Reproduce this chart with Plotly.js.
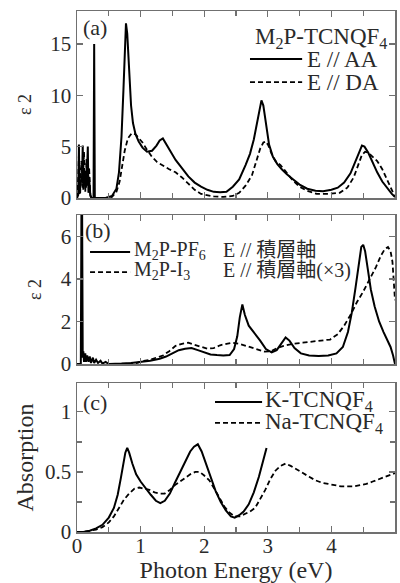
<!DOCTYPE html>
<html>
<head>
<meta charset="utf-8">
<script src="https://cdn.plot.ly/plotly-3.0.1.min.js"></script>
<style>
  html, body { margin: 0; padding: 0; background: #fff; }
  #chart { width: 400px; height: 583px; }
</style>
</head>
<body>
<div id="chart"></div>
<script>
// ---------- Panel (a): M2P-TCNQF4, epsilon_2 ----------
const aaEnergy = [0.00,0.02,0.03,0.04,0.06,0.08,0.09,0.10,0.12,0.14,0.16,0.17,0.18,0.19,0.21,0.23,0.26,0.27,0.28,0.30,
  0.45,0.55,0.62,0.66,0.70,0.73,0.75,0.77,0.79,0.82,0.85,0.88,0.92,0.97,1.03,1.10,1.18,1.25,1.30,1.35,1.40,1.47,1.55,1.65,1.75,1.85,1.95,2.05,2.15,2.25,2.35,2.45,2.55,2.65,2.72,2.78,2.83,2.87,2.90,2.93,2.97,3.02,3.08,3.15,3.22,3.30,3.40,3.50,3.62,3.75,3.87,4.00,4.10,4.20,4.30,4.38,4.44,4.48,4.52,4.58,4.65,4.72,4.80,4.88,4.95,5.00];
const aaEps2 = [0.0,0.3,5.2,0.4,1.5,2.0,5.1,0.8,2.5,1.0,3.0,5.0,0.5,2.0,0.2,0.0,0.0,15.0,0.0,0.0,
  0.0,0.2,0.9,2.5,6.0,10.5,14.5,17.0,16.0,12.5,9.0,7.3,6.2,5.5,4.9,4.5,4.6,5.1,5.6,5.8,5.3,4.5,3.7,2.9,2.1,1.5,1.1,0.8,0.6,0.55,0.6,1.1,1.8,3.2,4.3,5.7,7.3,8.8,9.5,9.0,7.2,5.2,4.0,3.3,2.8,2.3,1.8,1.3,0.9,0.7,0.65,0.8,1.0,1.5,2.4,3.5,4.5,5.1,5.0,4.4,3.4,2.5,1.6,0.9,0.4,0.1];

const daEnergy = [0.00,0.02,0.03,0.05,0.07,0.09,0.11,0.13,0.15,0.17,0.19,0.21,0.23,
  0.45,0.55,0.62,0.67,0.71,0.75,0.80,0.86,0.92,0.98,1.03,1.10,1.18,1.26,1.34,1.45,1.55,1.65,1.75,1.85,1.95,2.05,2.15,2.30,2.45,2.55,2.65,2.75,2.82,2.88,2.93,2.97,3.01,3.06,3.12,3.20,3.28,3.38,3.50,3.62,3.77,3.95,4.13,4.25,4.35,4.42,4.48,4.53,4.58,4.65,4.72,4.80,4.87,4.94,5.00];
const daEps2 = [0.0,2.0,4.2,0.5,3.6,1.0,4.5,0.6,3.8,1.2,3.0,0.3,0.0,
  0.0,0.1,0.6,1.6,3.0,4.6,5.8,6.3,6.2,5.8,5.4,4.7,4.0,3.5,3.2,2.8,2.5,2.0,1.4,0.8,0.4,0.25,0.15,0.1,0.2,0.5,1.2,2.2,3.6,4.8,5.4,5.5,5.1,4.3,3.6,3.2,2.6,1.8,1.1,0.7,0.4,0.4,0.5,1.0,2.0,3.3,4.2,4.5,4.4,4.0,3.6,2.8,1.8,0.8,0.1];

// ---------- Panel (b): M2P-PF6 and M2P-I3 (x3), epsilon_2 along stacking axis ----------
const pf6Energy = [0.00,0.06,0.07,0.08,0.09,0.10,0.11,0.13,0.14,0.16,0.18,0.20,0.22,0.25,0.27,0.30,0.33,0.37,0.40,0.45,0.50,
  0.55,0.70,0.85,1.00,1.15,1.30,1.40,1.50,1.60,1.70,1.80,1.90,2.00,2.10,2.20,2.30,2.40,2.47,2.52,2.56,2.60,2.64,2.70,2.78,2.88,2.97,3.06,3.14,3.22,3.28,3.34,3.42,3.52,3.65,3.80,3.95,4.08,4.18,4.26,4.32,4.38,4.43,4.47,4.50,4.53,4.57,4.62,4.68,4.75,4.82,4.88,4.93,4.97,5.00];
const pf6Eps2 = [0.0,0.0,7.5,7.5,0.3,0.6,0.1,0.5,0.1,0.4,0.1,0.35,0.05,0.3,0.05,0.2,0.05,0.15,0.02,0.1,0.0,
  0.0,0.02,0.05,0.1,0.15,0.25,0.35,0.5,0.65,0.72,0.75,0.65,0.55,0.45,0.42,0.4,0.42,0.7,1.3,2.2,2.8,2.3,1.8,1.5,1.1,0.7,0.55,0.65,1.0,1.25,1.1,0.75,0.5,0.4,0.37,0.4,0.5,0.8,1.5,2.4,3.6,4.8,5.5,5.6,5.3,4.5,3.5,2.7,2.0,1.5,1.1,0.8,0.4,0.0];

const i3Energy = [0.80,0.95,1.05,1.15,1.25,1.35,1.45,1.55,1.65,1.75,1.85,1.95,2.05,2.15,2.25,2.35,2.45,2.55,2.65,2.75,2.85,2.95,3.05,3.15,3.25,3.40,3.55,3.70,3.85,3.98,4.10,4.20,4.30,4.40,4.50,4.60,4.70,4.78,4.84,4.89,4.93,4.96,4.98,5.00];
const i3Eps2 = [0.0,0.05,0.15,0.2,0.3,0.4,0.6,0.85,0.95,1.0,0.9,0.8,0.72,0.75,0.88,0.95,1.0,0.95,0.85,0.78,0.68,0.58,0.6,0.75,0.85,0.95,1.0,1.05,1.08,1.15,1.4,1.8,2.3,2.9,3.4,3.95,4.55,5.1,5.4,5.5,5.3,4.8,4.0,3.0];

// ---------- Panel (c): absorption of K-TCNQF4 and Na-TCNQF4 ----------
const kEnergy = [0.00,0.10,0.20,0.30,0.40,0.50,0.58,0.64,0.69,0.73,0.76,0.79,0.82,0.87,0.93,1.00,1.08,1.16,1.24,1.31,1.38,1.46,1.54,1.62,1.70,1.78,1.84,1.90,1.96,2.03,2.10,2.18,2.26,2.34,2.42,2.48,2.55,2.62,2.70,2.78,2.86,2.93,2.98];
const kAbs = [0.0,0.0,0.01,0.03,0.06,0.12,0.2,0.31,0.45,0.58,0.66,0.70,0.66,0.57,0.48,0.42,0.36,0.31,0.26,0.24,0.26,0.32,0.41,0.50,0.59,0.67,0.71,0.73,0.67,0.56,0.45,0.34,0.25,0.18,0.13,0.12,0.14,0.17,0.23,0.33,0.46,0.60,0.70];

const naEnergy = [0.00,0.10,0.20,0.30,0.40,0.50,0.58,0.66,0.74,0.82,0.90,0.98,1.06,1.14,1.22,1.30,1.38,1.46,1.54,1.62,1.70,1.78,1.86,1.93,2.00,2.08,2.16,2.24,2.32,2.40,2.48,2.56,2.64,2.72,2.80,2.88,2.96,3.04,3.12,3.20,3.28,3.36,3.45,3.55,3.65,3.75,3.85,3.95,4.05,4.15,4.25,4.35,4.45,4.55,4.65,4.75,4.85,5.00];
const naAbs = [0.0,0.0,0.01,0.02,0.04,0.08,0.13,0.2,0.27,0.32,0.36,0.37,0.36,0.35,0.33,0.32,0.32,0.35,0.39,0.42,0.45,0.48,0.50,0.50,0.47,0.43,0.36,0.28,0.21,0.16,0.13,0.13,0.15,0.17,0.2,0.27,0.35,0.44,0.51,0.55,0.57,0.55,0.52,0.49,0.46,0.43,0.41,0.40,0.39,0.38,0.38,0.38,0.39,0.40,0.42,0.44,0.46,0.49];

// ---------- Tick labels ----------
const xTickVals = [0,1,2,3,4,5];
const xTickText = ['0','1','2','3','4','5'];
const aTickVals = [0,5,10,15];
const bTickVals = [0,2,4,6];
const cTickVals = [0,0.5,1];
const cTickText = ['0','0.5','1'];

// ---------- Styling ----------
const SERIF = 'Liberation Serif, Times New Roman, Noto Sans CJK JP, serif';
const TXT = '#2a2a2a';
const FRAME = '#707070';

function solidTrace(x, y, xa, ya) {
  return {x: x, y: y, xaxis: xa, yaxis: ya, type: 'scatter', mode: 'lines',
    line: {color: '#000', width: 2}, showlegend: false, hoverinfo: 'skip'};
}
function dashTrace(x, y, xa, ya) {
  return {x: x, y: y, xaxis: xa, yaxis: ya, type: 'scatter', mode: 'lines',
    line: {color: '#000', width: 1.8, dash: '5px,3px'}, showlegend: false, hoverinfo: 'skip'};
}

const data = [
  solidTrace(aaEnergy, aaEps2, 'x3', 'y3'),
  dashTrace(daEnergy, daEps2, 'x3', 'y3'),
  solidTrace(pf6Energy, pf6Eps2, 'x2', 'y2'),
  dashTrace(i3Energy, i3Eps2, 'x2', 'y2'),
  solidTrace(kEnergy, kAbs, 'x', 'y'),
  dashTrace(naEnergy, naAbs, 'x', 'y')
];

function xAxis(anchor, showLabels) {
  return {
    anchor: anchor, domain: [0, 1], range: [0, 5],
    showline: true, mirror: 'allticks', linecolor: FRAME, linewidth: 1.5,
    ticks: 'inside', ticklen: 6, tickwidth: 1.3, tickcolor: FRAME,
    tickvals: xTickVals, ticktext: xTickText, showticklabels: showLabels,
    minor: {ticks: 'inside', ticklen: 5, tickwidth: 1.3, tickcolor: FRAME, dtick: 0.5, tick0: 0, showgrid: false},
    showgrid: false, zeroline: false, fixedrange: true,
    tickfont: {family: SERIF, size: 21, color: TXT}
  };
}
function yAxis(anchor, domain, range, tickvals, ticktext, minorDtick, title, titleSize, standoff) {
  const ax = {
    anchor: anchor, domain: domain, range: range,
    showline: true, mirror: 'allticks', linecolor: FRAME, linewidth: 1.5,
    ticks: 'inside', ticklen: 6, tickwidth: 1.3, tickcolor: FRAME,
    tickvals: tickvals, showgrid: false, zeroline: false, fixedrange: true,
    tickfont: {family: SERIF, size: 21, color: TXT},
    title: {text: title, font: {family: SERIF, size: titleSize, color: TXT}, standoff: standoff}
  };
  if (ticktext) ax.ticktext = ticktext;
  if (minorDtick) ax.minor = {ticks: 'inside', ticklen: 5, tickwidth: 1.3, tickcolor: FRAME, dtick: minorDtick, tick0: 0, showgrid: false};
  return ax;
}

// Plot area geometry (pixels): x 77..395; (a) y 11..198, (b) 215..364, (c) 383..532
const H = 521;
const domC = [0, 149 / H];
const domB = [(532 - 364) / H, (532 - 215) / H];
const domA = [(532 - 198) / H, 1];

// Legend keys & labels (positions in axis-domain fractions)
function keyLine(xr, yr, x0, x1, y, dashed) {
  return {type: 'line', xref: xr, yref: yr, x0: x0, x1: x1, y0: y, y1: y,
    line: {color: '#000', width: dashed ? 1.8 : 2, dash: dashed ? '5px,3px' : 'solid'}};
}
function label(xr, yr, x, y, text, size, anchor) {
  return {xref: xr, yref: yr, x: x, y: y, text: text, showarrow: false,
    xanchor: anchor || 'left', yanchor: 'middle',
    font: {family: SERIF, size: size, color: TXT}};
}

const shapes = [
  keyLine('x3 domain', 'y3 domain', 0.544, 0.708, 0.743, false),
  keyLine('x3 domain', 'y3 domain', 0.544, 0.708, 0.620, true),
  keyLine('x2 domain', 'y2 domain', 0.041, 0.167, 0.752, false),
  keyLine('x2 domain', 'y2 domain', 0.041, 0.167, 0.617, true),
  keyLine('x domain', 'y domain', 0.434, 0.582, 0.872, false),
  keyLine('x domain', 'y domain', 0.434, 0.582, 0.732, true)
];

const annotations = [
  label('x3 domain', 'y3 domain', 0.014, 0.912, '(a)', 22),
  label('x3 domain', 'y3 domain', 0.982, 0.858, 'M<sub>2</sub>P-TCNQF<sub>4</sub>', 23, 'right'),
  label('x3 domain', 'y3 domain', 0.716, 0.740, 'E // AA', 23),
  label('x3 domain', 'y3 domain', 0.716, 0.618, 'E // DA', 23),
  label('x2 domain', 'y2 domain', 0.020, 0.893, '(b)', 22),
  label('x2 domain', 'y2 domain', 0.172, 0.765, 'M<sub>2</sub>P-PF<sub>6</sub>', 20),
  label('x2 domain', 'y2 domain', 0.452, 0.765, 'E // 積層軸', 20),
  label('x2 domain', 'y2 domain', 0.172, 0.628, 'M<sub>2</sub>P-I<sub>3</sub>', 20),
  label('x2 domain', 'y2 domain', 0.452, 0.628, 'E // 積層軸(×3)', 20),
  label('x domain', 'y domain', 0.012, 0.872, '(c)', 22),
  label('x domain', 'y domain', 0.586, 0.878, 'K-TCNQF<sub>4</sub>', 23),
  label('x domain', 'y domain', 0.586, 0.732, 'Na-TCNQF<sub>4</sub>', 23)
];

const xa = xAxis('y', true);
xa.ticklabelstandoff = -6;
xa.title = {text: 'Photon Energy (eV)', font: {family: SERIF, size: 24, color: TXT}, standoff: 6};

const layout = {
  width: 400, height: 583,
  margin: {l: 77, r: 5, t: 11, b: 51, pad: 0},
  paper_bgcolor: '#fff', plot_bgcolor: '#fff',
  showlegend: false,
  xaxis: xa,
  yaxis: yAxis('x', domC, [0, 1.24], cTickVals, cTickText, 0.25, 'Absorption', 24, 4),
  xaxis2: xAxis('y2', false),
  yaxis2: yAxis('x2', domB, [0, 7.0], bTickVals, null, null, 'ε 2', 18, 14),
  xaxis3: xAxis('y3', false),
  yaxis3: yAxis('x3', domA, [0, 18.2], aTickVals, null, null, 'ε 2', 18, 14),
  shapes: shapes,
  annotations: annotations
};

Plotly.newPlot('chart', data, layout, {staticPlot: true, displayModeBar: false});
</script>
</body>
</html>
